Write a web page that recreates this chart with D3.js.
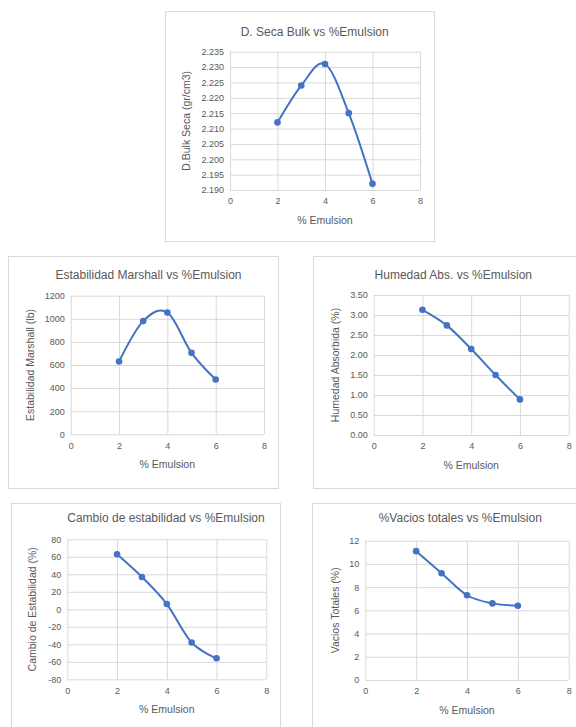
<!DOCTYPE html>
<html>
<head>
<meta charset="utf-8">
<title>Emulsion charts</title>
<style type="text/css">
	body { margin: 0; background: #fff; }
	svg text { font-family: "Liberation Sans", Arial, sans-serif; fill: #595959; }
	.tick text { font-size: 9px; }
	.title { font-size: 12px; }
	.axlabel { font-size: 10.5px; }
</style>
<script src="https://cdn.jsdelivr.net/npm/d3@7/dist/d3.min.js"></script>
</head>
<body>
<script type="text/javascript">
// % emulsion on every x axis
var emulsion = [2, 3, 4, 5, 6];
var xTicks = [0, 2, 4, 6, 8];

// series
var densidadSeca = [2.212, 2.224, 2.231, 2.215, 2.192];
var estabilidad = [630, 980, 1055, 705, 475];
var humedadAbs = [3.13, 2.74, 2.15, 1.50, 0.89];
var cambioEstab = [63, 37, 6, -38, -56];
var vaciosTotales = [11.1, 9.2, 7.3, 6.6, 6.4];

// y tick labels
var densidadTicks = [2.190, 2.195, 2.200, 2.205, 2.210, 2.215, 2.220, 2.225, 2.230, 2.235];
var estabTicks = [0, 200, 400, 600, 800, 1000, 1200];
var humedadTicks = [0, 0.5, 1, 1.5, 2, 2.5, 3, 3.5];
var cambioTicks = [-80, -60, -40, -20, 0, 20, 40, 60, 80];
var vaciosTicks = [0, 2, 4, 6, 8, 10, 12];

// excel style: plain hyphen for negatives
var fmt = function(spec){
	var f = d3.format(spec);
	return function(d){ return f(d).replace('\u2212', '-'); };
};

var charts = [
	{ title: 'D. Seca Bulk vs %Emulsion', ylabel: 'D.Bulk Seca (gr/cm3)',
	  values: densidadSeca, ticks: densidadTicks, fmt: fmt('.3f'),
	  box: [165, 11, 434, 241], plot: [230, 51.7, 420, 190], titleX: 314.7, titleY: 32.7, ylabX: 187.7 },
	{ title: 'Estabilidad Marshall vs %Emulsion', ylabel: 'Estabilidad Marshall (lb)',
	  values: estabilidad, ticks: estabTicks, fmt: fmt('d'),
	  box: [8, 256, 278, 488], plot: [70.7, 295.7, 264, 434.3], titleX: 148.5, titleY: 275.7, ylabX: 31.3 },
	{ title: 'Humedad Abs. vs %Emulsion', ylabel: 'Humedad Absorbida (%)',
	  values: humedadAbs, ticks: humedadTicks, fmt: fmt('.2f'),
	  box: [313, 256, 590, 488], plot: [373.7, 295, 568.7, 435], titleX: 453.3, titleY: 275.7, ylabX: 336 },
	{ title: 'Cambio de estabilidad vs %Emulsion', ylabel: 'Cambio de Estabilidad (%)',
	  values: cambioEstab, ticks: cambioTicks, fmt: fmt('d'),
	  box: [11, 503, 280, 740], plot: [67.3, 539.3, 266.3, 679.3], titleX: 166, titleY: 519.3, ylabX: 33 },
	{ title: '%Vacios totales vs %Emulsion', ylabel: 'Vacios Totales (%)',
	  values: vaciosTotales, ticks: vaciosTicks, fmt: fmt('d'),
	  box: [312, 503, 590, 740], plot: [365.3, 540.7, 568.7, 680], titleX: 460.3, titleY: 519, ylabX: 336 }
];

var svg = d3.select('body').append('svg')
		.attr('width', 576)
		.attr('height', 727);

charts.forEach(function(c){
	var g = svg.append('g');

	// chart area frame
	g.append('rect')
		.attr('x', c.box[0] + 0.5).attr('y', c.box[1] + 0.5)
		.attr('width', c.box[2] - c.box[0]).attr('height', c.box[3] - c.box[1])
		.attr('fill', '#fff').attr('stroke', '#d9d9d9');

	var x = d3.scaleLinear().domain([0, 8]).range([c.plot[0], c.plot[2]]);
	var y = d3.scaleLinear().domain(d3.extent(c.ticks)).range([c.plot[3], c.plot[1]]);
	var w = c.plot[2] - c.plot[0], h = c.plot[3] - c.plot[1];

	var yAxis = g.append('g')
		.attr('transform', 'translate(' + c.plot[0] + ',0)')
		.call(d3.axisLeft(y).tickValues(c.ticks).tickSize(-w).tickPadding(6).tickFormat(c.fmt));
	var xAxis = g.append('g')
		.attr('transform', 'translate(0,' + c.plot[3] + ')')
		.call(d3.axisBottom(x).tickValues(xTicks).tickSize(-h).tickPadding(8));
	[yAxis, xAxis].forEach(function(a){
		a.select('.domain').remove();
		a.selectAll('.tick line').attr('stroke', '#d9d9d9');
		a.selectAll('.tick text').attr('fill', '#595959');
	});

	// excel smoothed line ~ catmull-rom
	var line = d3.line()
		.x(function(d, i){ return x(emulsion[i]); })
		.y(function(d){ return y(d); })
		.curve(d3.curveCardinal.tension(0));

	g.append('path')
		.datum(c.values)
		.attr('d', line)
		.attr('fill', 'none')
		.attr('stroke', '#4472c4')
		.attr('stroke-width', 2);

	g.selectAll('circle')
		.data(c.values)
		.enter().append('circle')
		.attr('cx', function(d, i){ return x(emulsion[i]); })
		.attr('cy', function(d){ return y(d); })
		.attr('r', 3.3)
		.attr('fill', '#4472c4');

	g.append('text').attr('class', 'title')
		.attr('x', c.titleX).attr('y', c.titleY)
		.attr('text-anchor', 'middle').attr('dominant-baseline', 'middle')
		.text(c.title);

	g.append('text').attr('class', 'axlabel')
		.attr('x', (c.plot[0] + c.plot[2]) / 2).attr('y', c.plot[3] + 31)
		.attr('text-anchor', 'middle').attr('dominant-baseline', 'middle')
		.text('% Emulsion');

	g.append('text').attr('class', 'axlabel')
		.attr('transform', 'translate(' + c.ylabX + ',' + (c.plot[1] + c.plot[3]) / 2 + ') rotate(-90)')
		.attr('text-anchor', 'middle').attr('dominant-baseline', 'middle')
		.text(c.ylabel);
});
</script>
</body>
</html>
